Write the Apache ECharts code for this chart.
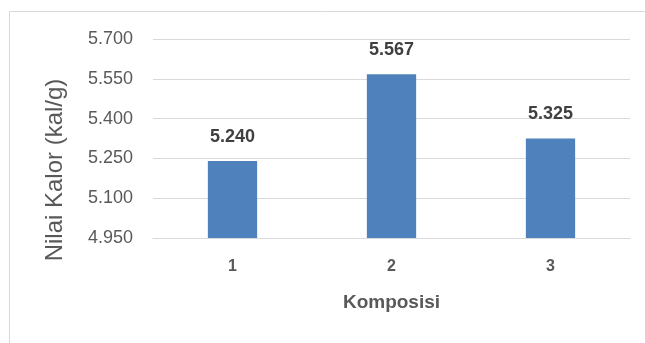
<!DOCTYPE html>
<html>
<head>
<meta charset="utf-8">
<script src="https://cdn.jsdelivr.net/npm/echarts@6/dist/echarts.min.js"></script>
<style>
  html, body { margin: 0; padding: 0; background: #fff; }
  #chart { width: 645px; height: 343px; }
</style>
</head>
<body>
<div id="chart"></div>
<script>
// nilai kalor per komposisi (kal/g)
var categories = ["1", "2", "3"];
var values = [5240, 5567, 5325];
var yMin = 4950, yMax = 5700, yStep = 150;

// "5240" -> "5.240" (titik sebagai pemisah ribuan)
function fmt(v) {
    return (v / 1000).toFixed(3);
}

var font = "'Liberation Sans', 'DejaVu Sans', sans-serif";
var chart = echarts.init(document.getElementById("chart"));

chart.setOption({
    animation: false,
    backgroundColor: "#fff",
    textStyle: { fontFamily: font },
    graphic: [{
        type: "rect",
        shape: { x: 9.5, y: 11.5, width: 700, height: 400 },
        style: { fill: "none", stroke: "#d9d9d9", lineWidth: 1 }
    }],
    grid: { left: 153, right: 15, top: 39, bottom: 105 },
    xAxis: {
        type: "category",
        data: categories,
        name: "Komposisi",
        nameLocation: "middle",
        nameGap: 55,
        nameTextStyle: { color: "#595959", fontSize: 19, fontWeight: "bold" },
        axisLine: { lineStyle: { color: "#d9d9d9" } },
        axisTick: { show: false },
        axisLabel: { color: "#595959", fontSize: 16, fontWeight: "bold", margin: 21 }
    },
    yAxis: {
        type: "value",
        min: yMin,
        max: yMax,
        interval: yStep,
        name: "Nilai Kalor (kal/g)",
        nameLocation: "middle",
        nameGap: 86,
        nameMoveOverlap: false,
        // in Excel the title sits lower than the plot centre
        nameTextStyle: { color: "#595959", fontSize: 24, padding: [0, 63, 0, 0] },
        axisLine: { show: false },
        axisTick: { show: false },
        axisLabel: { color: "#595959", fontSize: 18, margin: 20, formatter: fmt },
        splitLine: { lineStyle: { color: "#d9d9d9", width: 1 } }
    },
    series: [{
        type: "bar",
        data: values,
        barWidth: "31%",
        itemStyle: { color: "#4f81bd" },
        label: {
            show: true,
            position: "top",
            distance: 15,
            color: "#404040",
            fontSize: 18,
            fontWeight: "bold",
            formatter: function (p) { return fmt(p.value); }
        }
    }]
});
</script>
</body>
</html>
